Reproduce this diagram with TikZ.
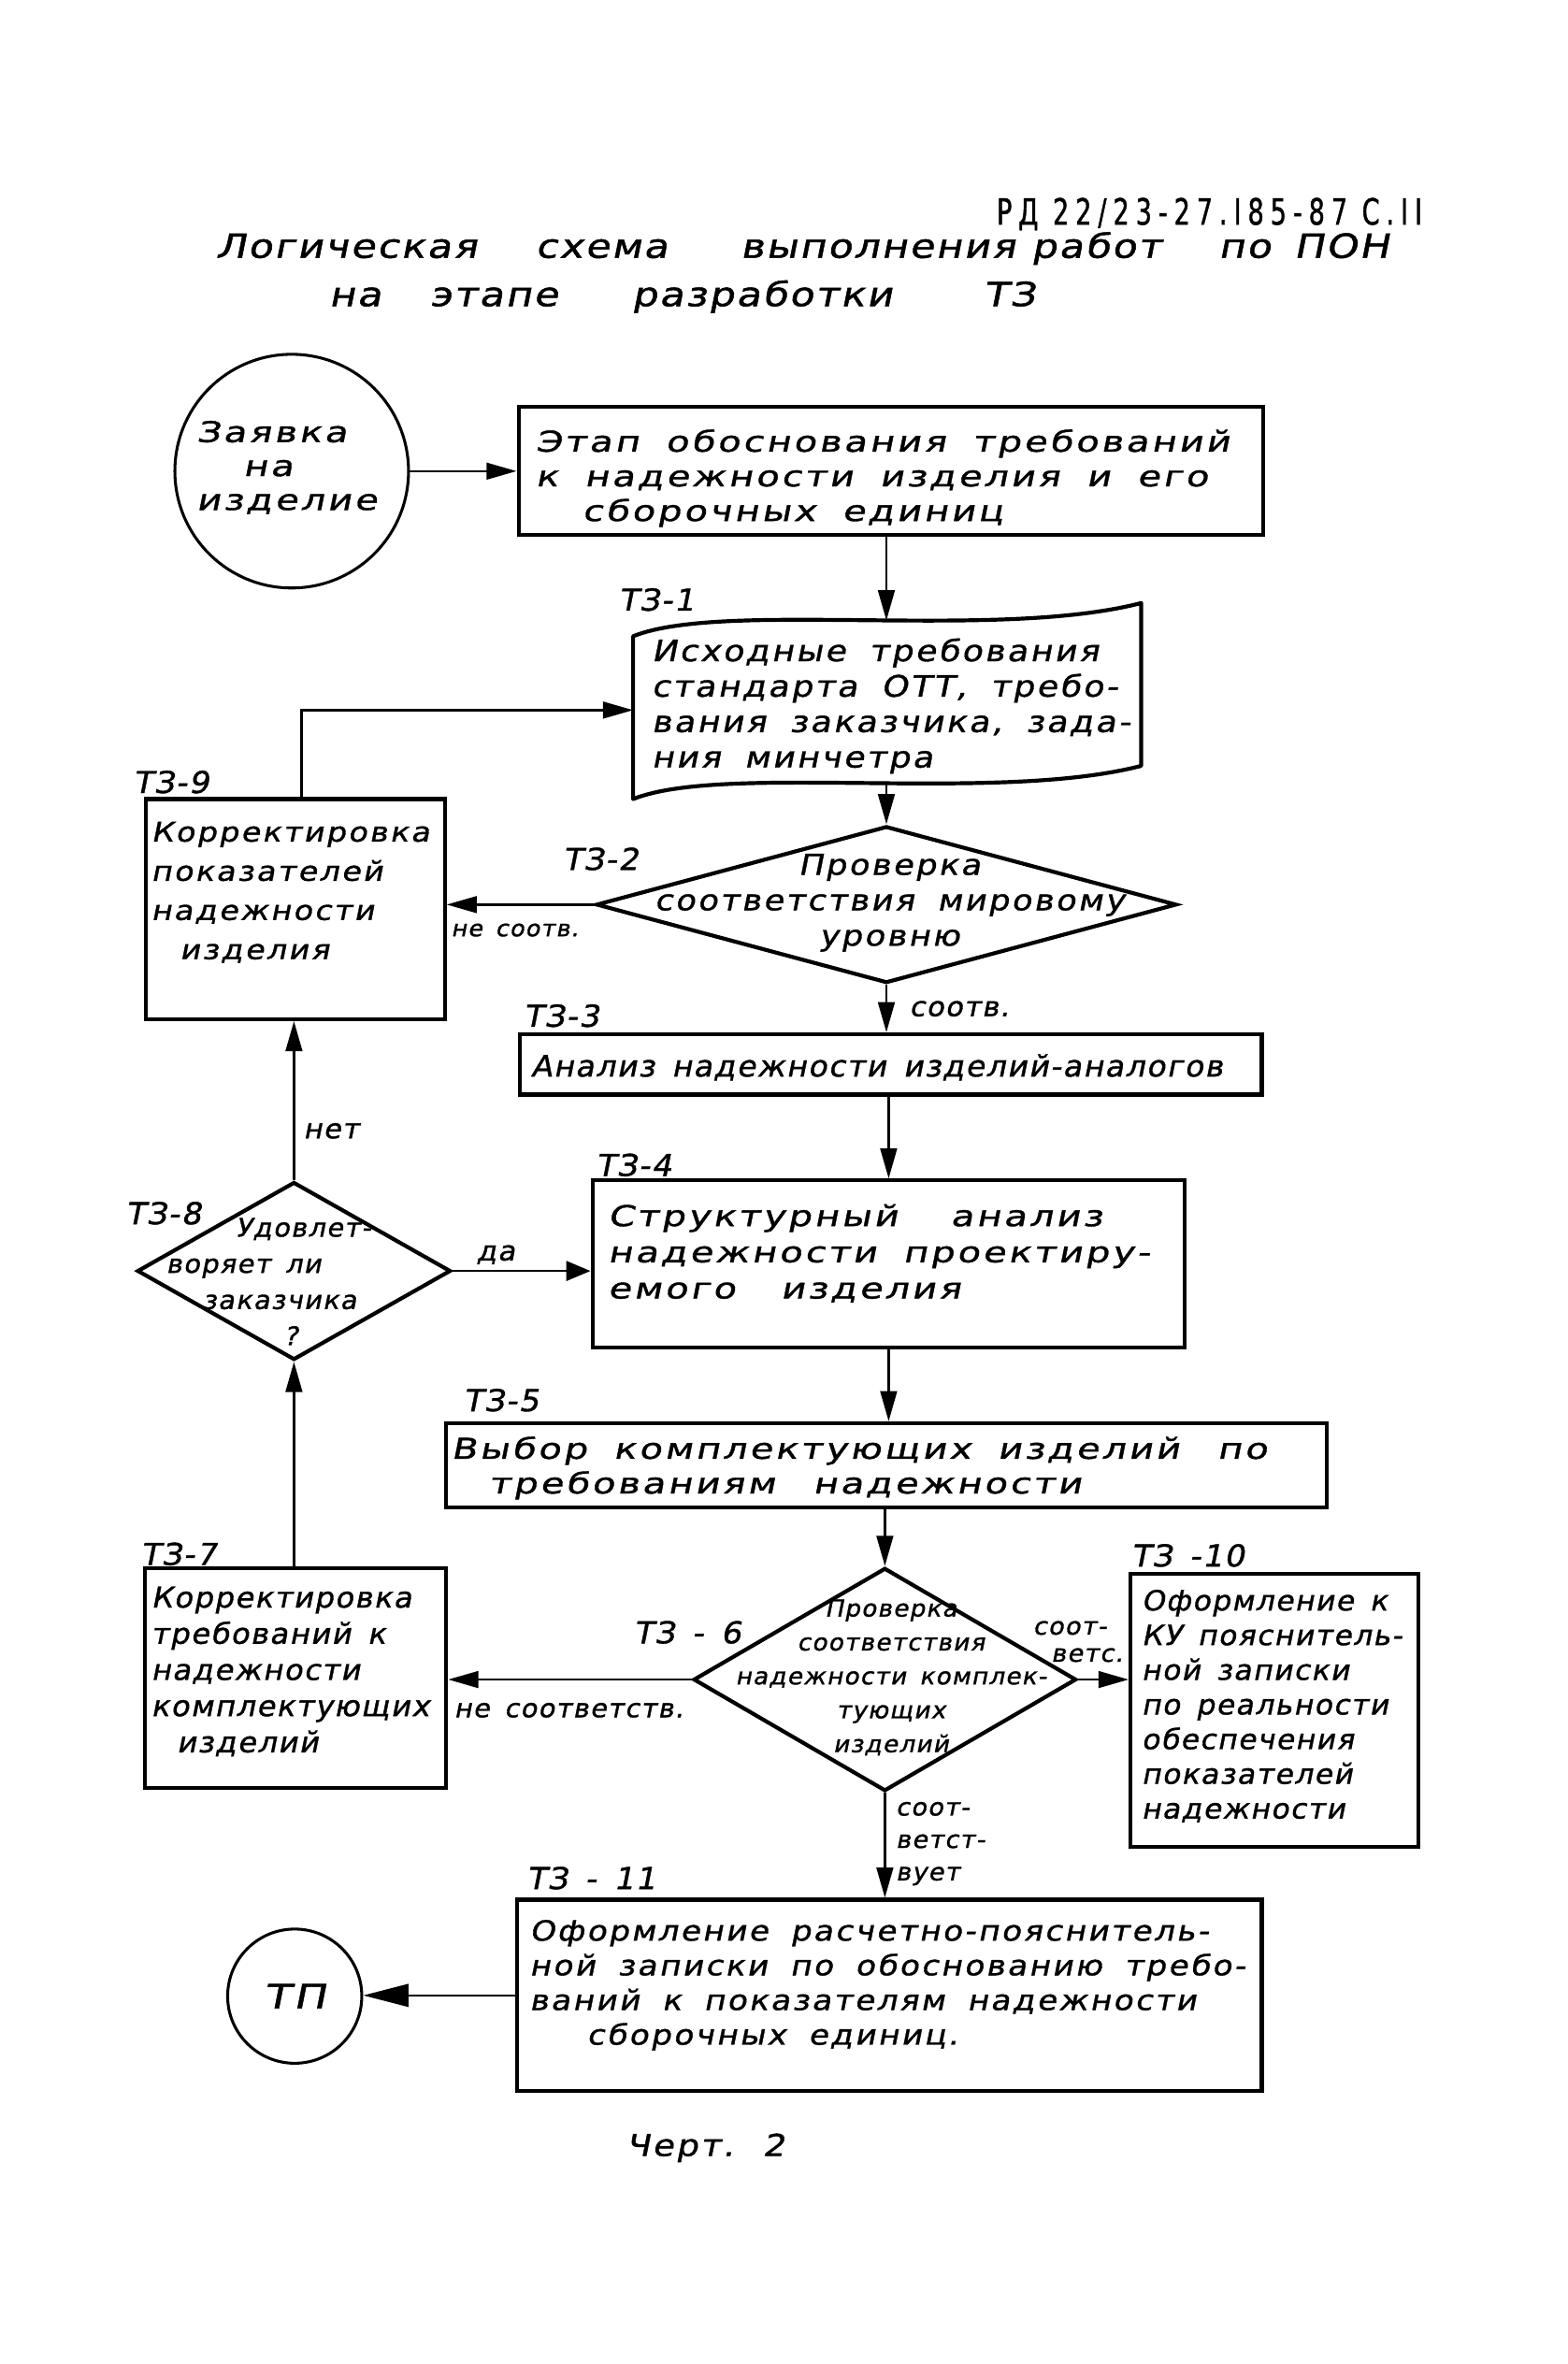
\documentclass[tikz,border=0pt]{standalone}
\usepackage{fontspec}
\usetikzlibrary{arrows.meta,shapes.geometric}
\setmainfont{DejaVu Sans}
\newfontfamily\hw{DejaVu Sans}[FakeSlant=0.2,FakeStretch=1.3,LetterSpace=10,WordSpace=1.8,FakeBold=1.2]
\newfontfamily\hwt{DejaVu Sans}[FakeSlant=0.2,FakeStretch=1.2,LetterSpace=6,WordSpace=1.8,FakeBold=1.4]
\newfontfamily\hwm{DejaVu Sans}[FakeSlant=0.2,FakeStretch=1.15,LetterSpace=8,WordSpace=1.8,FakeBold=1.2]
\newfontfamily\hwn{DejaVu Sans}[FakeSlant=0.2,FakeStretch=1.05,LetterSpace=5,WordSpace=1.5,FakeBold=1.2]
\newfontfamily\hdr{DejaVu Sans}[FakeStretch=0.7,LetterSpace=18,FakeBold=1]
\newcommand\tst{\rule{0pt}{0.76em}}
\begin{document}
\begin{tikzpicture}[x=1pt,y=-1pt,
  box/.style={draw, line width=2.6pt, rectangle, inner sep=0pt},
  circ/.style={draw, line width=1.9pt, circle, inner sep=0pt},
  dia/.style={draw, line width=2.6pt, diamond, inner sep=0pt},
  wave/.style={draw, line width=2.6pt, line join=round},
  conn/.style={line width=1.6pt},
  arr/.style={conn, -{Triangle[length=20pt,width=11pt]}},
  arrda/.style={conn, -{Triangle[length=16pt,width=13pt]}},
  arrtp/.style={conn, -{Triangle[length=30pt,width=15pt]}},
  plain/.style={inner sep=0pt},
  txt/.style={inner sep=0pt, anchor=north west, align=left},
  ctxt/.style={inner sep=0pt, anchor=north, align=center},
  lab/.style={inner sep=0pt, anchor=base west, font=\hwn\fontsize{20}{24}\selectfont},
  small/.style={inner sep=0pt, anchor=base west}]
\path[fill=white] (0,0) rectangle (1040,1568);
\useasboundingbox (0,0) rectangle (1040,1568);

% header and title
\node[plain, anchor=base west, font=\hdr\fontsize{24}{26}\selectfont] (hdr) at (661,149) {РД 22/23-27.I85-87 С.II};
\node[plain, anchor=base west, font=\hwt\fontsize{22}{26}\selectfont] (title1) at (143,171)
  {\makebox[212pt][l]{Логическая}\makebox[136pt][l]{схема}\makebox[193pt][l]{выполнения}\makebox[124pt][l]{работ}\makebox[50pt][l]{по}ПОН};
\node[plain, anchor=base west, font=\hwt\fontsize{22}{26}\selectfont] (title2) at (218,203)
  {\makebox[67pt][l]{на}\makebox[134pt][l]{этапе}\makebox[233pt][l]{разработки}ТЗ};

% Заявка
\node[circ, minimum size=155pt] (zay) at (193.5,312.5) {};
\node[txt, font=\hw\fontsize{19}{22.5}\selectfont] (zayt) at (130,278.6) {\tst Заявка\\\hspace*{31pt}на\\изделие};

% Этап
\node[box, minimum width=494pt, minimum height=85pt] (etap) at (591,312.5) {};
\node[txt, font=\hw\fontsize{19}{23}\selectfont] (etapt) at (355,284.6)
  {\tst Этап обоснования требований\\к надежности изделия и его\\\hspace*{31pt}сборочных единиц};

% ТЗ-1
\node[lab] (l1) at (410,405) {ТЗ-1};
\path[wave] (420,422) .. controls (480,398) and (660,425) .. (757,400) -- (757,508)
  .. controls (660,533) and (480,506) .. (420,530) -- cycle;
\coordinate (t1n) at (588,411.5);
\coordinate (t1s) at (588,519.5);
\coordinate (t1w) at (420,471);
\node[txt, font=\hwm\fontsize{19.5}{23.5}\selectfont] (t1t) at (432,423.2)
  {\tst Исходные требования\\стандарта ОТТ, требо-\\вания заказчика, зада-\\ния минчетра};

% ТЗ-9
\node[box, minimum width=198pt, minimum height=146pt] (t9) at (196,603) {};
\node[lab] (l9) at (88,526) {ТЗ-9};
\node[txt, font=\hwm\fontsize{18}{26}\selectfont] (t9t) at (100,544.3)
  {\tst Корректировка\\показателей\\надежности\\\hspace*{19pt}изделия};

% ТЗ-2
\node[dia, minimum width=385pt, minimum height=104pt] (d2) at (588,600) {};
\node[lab] (l2) at (373,577) {ТЗ-2};
\node[ctxt, font=\hwm\fontsize{19}{23.5}\selectfont] (d2t) at (590,565.6)
  {\tst Проверка\\соответствия мировому\\уровню};
\node[small, font=\hwn\fontsize{15}{18}\selectfont] (lnes) at (299,621) {не соотв.};

% ТЗ-3
\node[box, minimum width=492pt, minimum height=40pt] (t3) at (591,706) {};
\node[lab] (l3) at (347,681) {ТЗ-3};
\node[small, font=\hwn\fontsize{19.5}{23}\selectfont] (t3t) at (352,714) {Анализ надежности изделий-аналогов};
\node[small, font=\hwn\fontsize{18}{20}\selectfont] (lsootv) at (603,674) {соотв.};

% ТЗ-4
\node[box, minimum width=393pt, minimum height=111pt] (t4) at (589.5,838.5) {};
\node[lab] (l4) at (395,780) {ТЗ-4};
\node[txt, font=\hw\fontsize{19}{24}\selectfont] (t4t) at (403,798.6)
  {\tst Структурный\hspace{35pt}анализ\\надежности проектиру-\\емого\hspace{30pt}изделия};

% ТЗ-8
\node[dia, minimum width=208pt, minimum height=118pt] (d8) at (195,843) {};
\node[lab] (l8) at (83,812) {ТЗ-8};
\node[txt, font=\hwn\fontsize{17}{24}\selectfont] (d8t) at (110,807.1)
  {\tst\hspace*{46pt}Удовлет-\\воряет ли\\\hspace*{24pt}заказчика\\\hspace*{78pt}?};
\node[small, font=\hwn\fontsize{18}{20}\selectfont] (lda) at (316,836) {да};
\node[small, font=\hwn\fontsize{18}{20}\selectfont] (lnet) at (201,755) {нет};

% ТЗ-5
\node[box, minimum width=584pt, minimum height=56pt] (t5) at (588,972) {};
\node[lab] (l5) at (307,936) {ТЗ-5};
\node[txt, font=\hw\fontsize{19}{23}\selectfont] (t5t) at (299,952.6)
  {\tst Выбор комплектующих изделий\hspace{25pt}по\\\hspace*{25pt}требованиям\hspace{25pt}надежности};

% ТЗ-6
\node[dia, minimum width=254pt, minimum height=148pt] (d6) at (587,1114) {};
\node[lab] (l6) at (420,1090) {ТЗ - 6};
\node[ctxt, font=\hwn\fontsize{15.5}{22.5}\selectfont] (d6t) at (591,1060.2)
  {\tst Проверка\\соответствия\\надежности комплек-\\тующих\\изделий};
\node[small, font=\hwn\fontsize{17}{20}\selectfont] (lnesoot) at (301,1139) {не соответств.};
\node[txt, font=\hwn\fontsize{16}{18}\selectfont] (lsoot2) at (685,1071.8) {\tst соот-\\\hspace*{12pt}ветс.};

% ТЗ-7
\node[box, minimum width=200pt, minimum height=146pt] (t7) at (196,1113) {};
\node[lab] (l7) at (93,1038) {ТЗ-7};
\node[txt, font=\hwn\fontsize{19}{24}\selectfont] (t7t) at (100,1051.6)
  {\tst Корректировка\\требований к\\надежности\\комплектующих\\\hspace*{17pt}изделий};

% ТЗ-10
\node[box, minimum width=191pt, minimum height=181pt] (t10) at (845.5,1134.5) {};
\node[lab] (l10) at (750,1039) {ТЗ -10};
\node[txt, font=\hwn\fontsize{18.5}{23}\selectfont] (t10t) at (757,1053.9)
  {\tst Оформление к\\КУ пояснитель-\\ной записки\\по реальности\\обеспечения\\показателей\\надежности};

% ТЗ-11
\node[lab] (l11) at (349,1253) {ТЗ - 11};
\node[txt, font=\hwn\fontsize{16}{21.5}\selectfont] (lsoot3) at (594,1191.8) {\tst соот-\\ветст-\\вует};
\node[box, minimum width=494pt, minimum height=127pt] (t11) at (590,1323.5) {};
\node[txt, font=\hwm\fontsize{18.5}{23}\selectfont] (t11t) at (351,1272.9)
  {\tst Оформление расчетно-пояснитель-\\ной записки по обоснованию требо-\\ваний к показателям надежности\\\hspace*{38pt}сборочных единиц.};

% ТП
\node[circ, minimum size=89pt, font=\hw\fontsize{22}{24}\selectfont] (tp) at (195.5,1324) {ТП};
\node[small, font=\hwm\fontsize{20}{24}\selectfont] (chert) at (415,1430) {Черт. 2};

% connectors
\draw[arr] (zay.east) -- (etap.west);
\draw[arr] (t1n |- etap.south) -- (t1n);
\draw[arr] (t1s) -- (t1s |- d2.north);
\draw[arr] ([xshift=4pt]t9.north) |- (t1w);
\draw[arr] (d2.west) -- (d2.west -| t9.east);
\draw[arr] (d2.south) -- (d2.south |- t3.north);
\draw[arr] (t4.north |- t3.south) -- (t4.north);
\draw[arr] (d8.north) -- (d8.north |- t9.south);
\draw[arrda] (d8.east) -- (d8.east -| t4.west);
\draw[arr] (t4.south) -- (t4.south |- t5.north);
\draw[arr] (d6.north |- t5.south) -- (d6.north);
\draw[arr] (d6.west) -- (d6.west -| t7.east);
\draw[arr] (d6.east) -- (d6.east -| t10.west);
\draw[arr] (d8.south |- t7.north) -- (d8.south);
\draw[arr] (d6.south) -- (d6.south |- t11.north);
\draw[arrtp] (t11.west) -- (t11.west -| tp.east);
\end{tikzpicture}
\end{document}
